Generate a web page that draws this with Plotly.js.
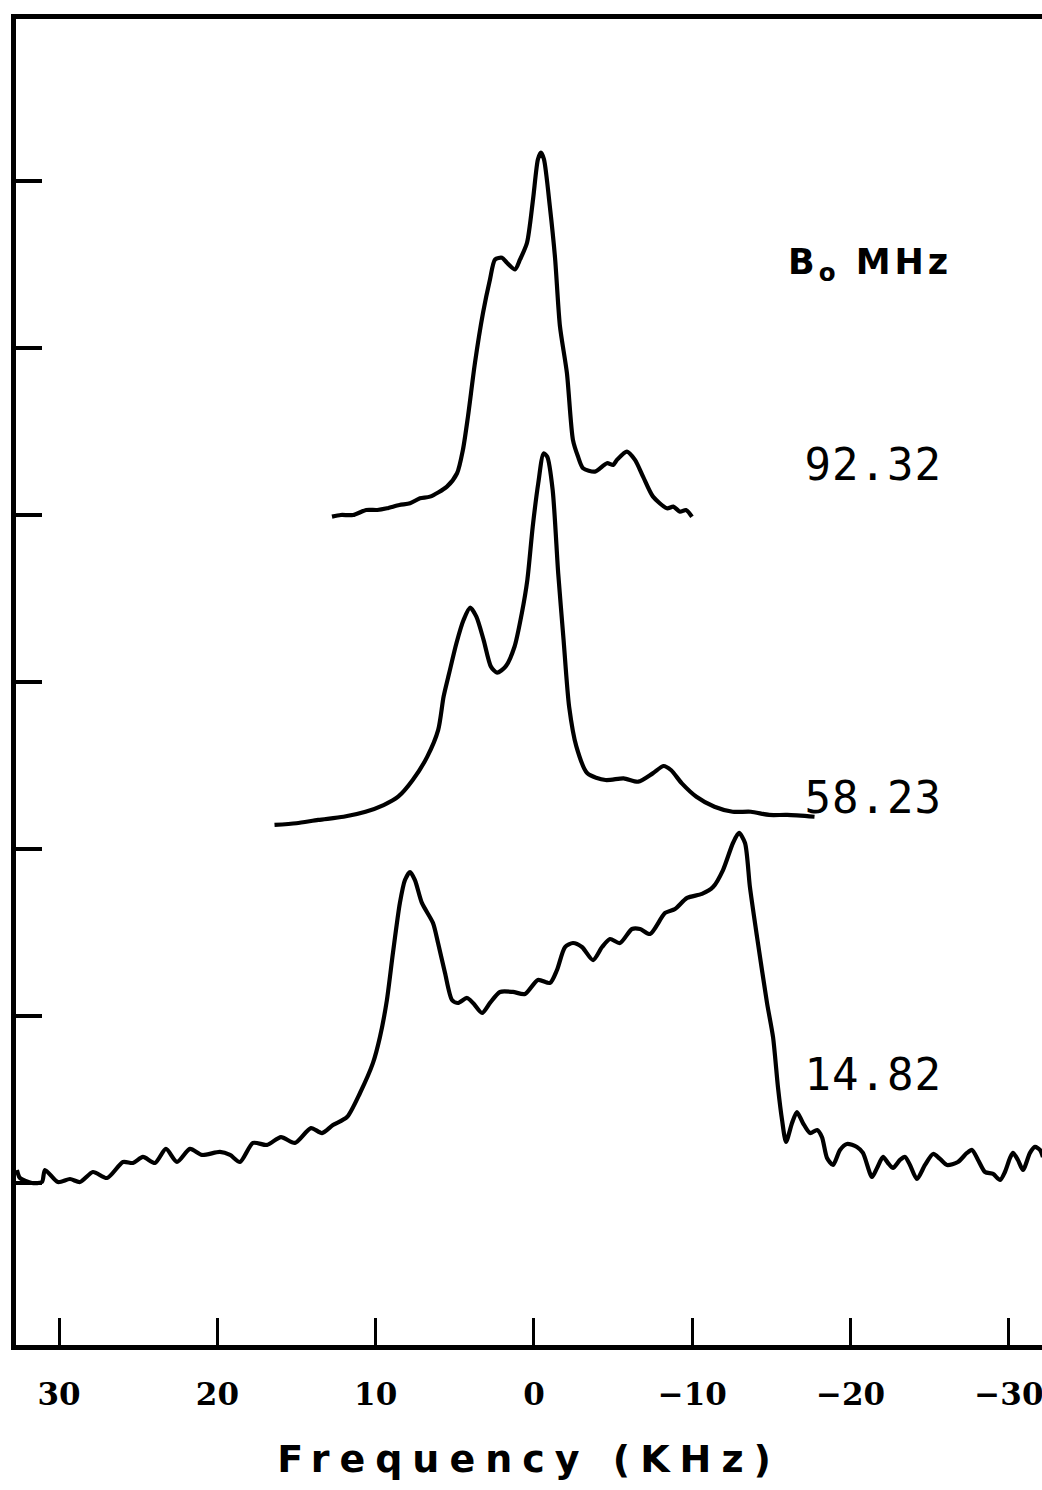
<!DOCTYPE html>
<html><head><meta charset="utf-8">
<script src="https://cdn.plot.ly/plotly-3.0.1.min.js"></script>
<style>html,body{margin:0;padding:0;background:#fff}</style>
</head><body><div id="chart" style="width:1042px;height:1490px"></div>
<script>
// Frequency (kHz) and relative intensity (stacked offsets) for each field
const x9232 = [12.76, 12.2, 11.43, 10.6, 9.9, 9.29, 8.5, 7.83, 7.2, 6.57, 5.5, 4.86, 4.49, 4.17, 3.73, 3.22, 2.78, 2.46, 2.02, 1.71, 1.20, 0.88, 0.44, 0.06, -0.25, -0.44, -0.63, -1.01, -1.33, -1.64, -2.08, -2.46, -2.78, -3.10, -3.85, -4.61, -5.0, -5.24, -5.87, -6.38, -6.89, -7.52, -8.40, -8.8, -9.22, -9.6, -9.98];
const y9232 = [4.99, 5.00, 5.00, 5.03, 5.03, 5.04, 5.06, 5.07, 5.10, 5.11, 5.17, 5.25, 5.39, 5.59, 5.91, 6.21, 6.41, 6.53, 6.54, 6.51, 6.47, 6.53, 6.63, 6.89, 7.13, 7.17, 7.13, 6.84, 6.54, 6.13, 5.85, 5.45, 5.35, 5.28, 5.26, 5.31, 5.30, 5.33, 5.38, 5.33, 5.23, 5.11, 5.04, 5.05, 5.02, 5.03, 4.99];

const x5823 = [16.39, 15.01, 13.63, 12.03, 10.64, 9.50, 8.58, 7.66, 6.74, 6.05, 5.71, 5.36, 4.90, 4.45, 4.03, 3.64, 3.18, 2.72, 2.33, 1.80, 1.23, 0.77, 0.42, 0.08, -0.27, -0.61, -0.84, -1.18, -1.53, -1.87, -2.22, -2.68, -3.37, -4.52, -5.66, -6.58, -7.50, -8.19, -8.65, -9.34, -10.26, -11.40, -12.55, -13.70, -14.85, -16.00, -17.72];
const y5823 = [3.144, 3.154, 3.174, 3.193, 3.223, 3.263, 3.313, 3.413, 3.553, 3.713, 3.912, 4.052, 4.232, 4.371, 4.445, 4.391, 4.251, 4.092, 4.056, 4.092, 4.211, 4.411, 4.611, 4.930, 5.190, 5.369, 5.349, 5.150, 4.651, 4.251, 3.852, 3.613, 3.453, 3.413, 3.423, 3.403, 3.453, 3.497, 3.473, 3.393, 3.313, 3.253, 3.223, 3.223, 3.204, 3.204, 3.193];

const x1482 = [32.66, 32.47, 31.71, 31.08, 30.89, 30.07, 29.31, 28.68, 27.86, 26.97, 25.96, 25.33, 24.70, 23.94, 23.25, 22.55, 21.73, 20.97, 19.84, 19.20, 18.57, 17.75, 16.87, 15.98, 15.10, 14.09, 13.39, 12.70, 11.81, 10.99, 10.17, 9.73, 9.29, 8.91, 8.47, 8.15, 7.83, 7.52, 7.08, 6.38, 6.06, 5.62, 5.18, 4.80, 4.23, 3.85, 3.28, 2.78, 2.15, 1.33, 0.57, -0.25, -1.01, -1.45, -1.96, -2.46, -3.03, -3.73, -4.30, -4.80, -5.43, -6.19, -6.70, -7.33, -8.28, -8.91, -9.67, -10.61, -11.31, -11.94, -12.57, -12.95, -13.33, -13.64, -14.09, -14.72, -15.10, -15.41, -15.67, -15.92, -16.30, -16.61, -16.99, -17.44, -17.88, -18.19, -18.51, -18.89, -19.33, -19.77, -20.40, -20.78, -21.35, -21.67, -22.05, -22.36, -22.68, -23.12, -23.44, -23.75, -24.19, -24.70, -25.21, -25.65, -26.09, -26.78, -27.35, -27.67, -28.05, -28.49, -29.00, -29.44, -29.75, -30.07, -30.26, -30.57, -30.89, -31.33, -31.65, -31.96, -32.15];
const y1482 = [1.078, 1.030, 1.000, 1.006, 1.078, 1.006, 1.024, 1.006, 1.066, 1.030, 1.126, 1.120, 1.156, 1.120, 1.204, 1.126, 1.204, 1.168, 1.186, 1.168, 1.126, 1.240, 1.228, 1.275, 1.240, 1.329, 1.299, 1.347, 1.395, 1.539, 1.719, 1.874, 2.096, 2.377, 2.677, 2.814, 2.862, 2.814, 2.677, 2.557, 2.437, 2.257, 2.096, 2.078, 2.108, 2.078, 2.018, 2.078, 2.144, 2.144, 2.132, 2.216, 2.198, 2.275, 2.413, 2.437, 2.413, 2.335, 2.413, 2.461, 2.437, 2.521, 2.521, 2.491, 2.617, 2.641, 2.707, 2.731, 2.772, 2.874, 3.036, 3.096, 3.036, 2.772, 2.473, 2.078, 1.874, 1.575, 1.377, 1.246, 1.359, 1.425, 1.359, 1.299, 1.317, 1.275, 1.150, 1.108, 1.198, 1.234, 1.216, 1.180, 1.036, 1.090, 1.156, 1.120, 1.090, 1.138, 1.156, 1.108, 1.024, 1.108, 1.174, 1.144, 1.108, 1.126, 1.180, 1.198, 1.138, 1.066, 1.054, 1.018, 1.066, 1.150, 1.180, 1.138, 1.078, 1.180, 1.216, 1.198, 1.156];

const xTickVals = [30, 20, 10, 0, -10, -20, -30];
const xTickLabels = ['30', '20', '10', '0', '\u221210', '\u221220', '\u221230'];
const yTickVals = [1, 2, 3, 4, 5, 6, 7];

const fieldLabels = ['92.32', '58.23', '14.82'];
const fieldLabelY = [5.30, 3.31, 1.65];
const headerLabel = 'B<sub>o</sub> MHz';
const xTitle = 'Frequency (KHz)';

const lineStyle = {color: '#000', width: 4.2, shape: 'spline', smoothing: 0.7};
const traces = [
  {x: x9232, y: y9232, name: '92.32', mode: 'lines', line: lineStyle},
  {x: x5823, y: y5823, name: '58.23', mode: 'lines', line: lineStyle},
  {x: x1482, y: y1482, name: '14.82', mode: 'lines', line: lineStyle}
];

const annotations = fieldLabels.map((t, i) => ({
  text: t, x: -21.4, y: fieldLabelY[i], xref: 'x', yref: 'y', showarrow: false,
  xanchor: 'center', yanchor: 'middle',
  font: {family: 'DejaVu Sans Mono', size: 44, color: '#000'}
}));
annotations.push({
  text: headerLabel, x: -21.2, y: 6.50, xref: 'x', yref: 'y', showarrow: false,
  xanchor: 'center', yanchor: 'middle',
  font: {family: 'DejaVu Sans', size: 35, color: '#000', weight: 'bold'}
});

const layout = {
  width: 1042, height: 1490,
  margin: {l: 16, r: 0, t: 19, b: 145, pad: 0},
  paper_bgcolor: '#fff', plot_bgcolor: '#fff',
  showlegend: false,
  xaxis: {
    range: [32.72, -32.09], autorange: false,
    tickvals: xTickVals, ticktext: xTickLabels,
    ticks: 'inside', ticklen: 27, tickwidth: 3, tickcolor: '#000',
    showline: true, linewidth: 5, linecolor: '#000', mirror: true,
    showgrid: false, zeroline: false,
    ticklabelstandoff: 18, ticklabeloverflow: 'allow',
    tickfont: {family: 'DejaVu Serif', size: 31, color: '#000', weight: 'bold'},
    title: {text: xTitle, standoff: 36,
      font: {family: 'DejaVu Sans', size: 38, color: '#000', weight: 'bold'}}
  },
  yaxis: {
    range: [0.03, 7.97], autorange: false,
    tickvals: yTickVals, showticklabels: false,
    ticks: 'inside', ticklen: 26, tickwidth: 4, tickcolor: '#000',
    showline: true, linewidth: 5, linecolor: '#000', mirror: false,
    showgrid: false, zeroline: false
  },
  annotations: annotations
};

Plotly.newPlot('chart', traces, layout, {displayModeBar: false, staticPlot: true}).then(() => {
  document.querySelectorAll('.g-xtitle text').forEach(el => el.setAttribute('letter-spacing', '10px'));
  document.querySelectorAll('.annotation-text').forEach(el => {
    if (el.textContent.indexOf('MHz') >= 0) el.setAttribute('letter-spacing', '4px');
    else el.setAttribute('letter-spacing', '1px');
  });
});
</script>
</body></html>
